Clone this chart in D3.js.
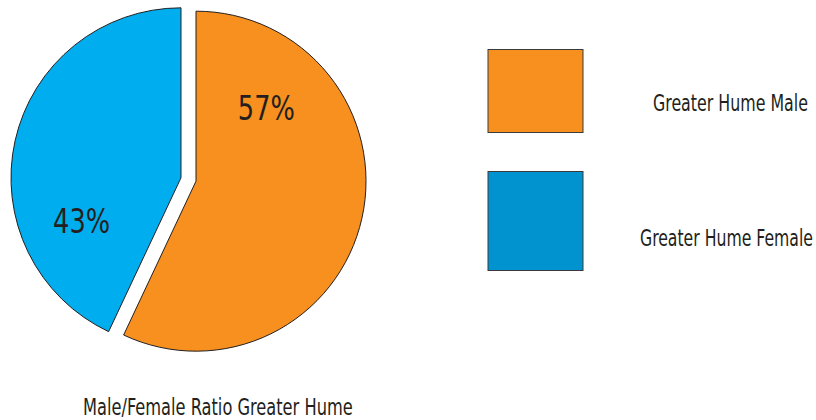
<!DOCTYPE html>
<html>
<head>
<meta charset="utf-8">
<script src="https://cdn.jsdelivr.net/npm/d3@7"></script>
<style>
  html, body { margin: 0; padding: 0; background: #ffffff; }
  svg { display: block; }
  text { font-family: "Liberation Sans Narrow", "Arial Narrow", "DejaVu Sans Condensed", "Liberation Sans", sans-serif; fill: #231f20; }
</style>
</head>
<body>
<svg id="chart" width="816" height="420"></svg>
<script>
// Share of population by sex
const categories = ["Greater Hume Male", "Greater Hume Female"];
const values = [57, 43];
const valueLabels = ["57%", "43%"];
const sliceColors = ["#f7901e", "#00adee"];
const legendColors = ["#f7901e", "#0093d0"];
const chartTitle = "Male/Female Ratio Greater Hume";

const svg = d3.select("#chart");
const ink = "#231f20";

// Squeeze a text horizontally so it spans the given width, anchored at (x, y)
function fitText(sel, x, y, width, anchor) {
  sel.each(function () {
    const t = d3.select(this).attr("x", 0).attr("y", 0).attr("text-anchor", "start");
    const len = this.getComputedTextLength();
    const k = width / len;
    const left = anchor === "middle" ? x - width / 2 : x;
    t.attr("transform", `translate(${left},${y}) scale(${k},1)`);
  });
}

// Pie geometry
const cx = 188.5, cy = 179.5, radius = 170, explode = 7.7;

const pie = d3.pie().sort(null).value(d => d.value);
const arcs = pie(categories.map((c, i) => ({ name: c, value: values[i], label: valueLabels[i], i })));
const arc = d3.arc().innerRadius(0).outerRadius(radius);

// Each slice is pulled out along its mid angle
function offset(d) {
  const mid = (d.startAngle + d.endAngle) / 2;
  return d3.pointRadial(mid, explode);
}

const slices = svg.append("g")
  .selectAll("g")
  .data(arcs)
  .join("g")
  .attr("transform", d => {
    const [dx, dy] = offset(d);
    return `translate(${cx + dx},${cy + dy})`;
  });

slices.append("path")
  .attr("d", arc)
  .attr("fill", d => sliceColors[d.data.i])
  .attr("stroke", ink)
  .attr("stroke-width", 1)
  .attr("stroke-linejoin", "miter");

// Percentage labels, placed inside each slice
const labelPlacement = [
  { angle: 43.6, r: 102 },
  { angle: 247, r: 108 }
];
slices.append("text")
  .attr("font-size", 34)
  .text(d => d.data.label)
  .each(function (d) {
    const p = labelPlacement[d.data.i];
    const [lx, ly] = d3.pointRadial(p.angle * Math.PI / 180, p.r);
    fitText(d3.select(this), lx, ly + 12.5, 57, "middle");
  });

// Legend
const legendBoxes = [
  { x: 488, y: 49.5, w: 95, h: 83 },
  { x: 488, y: 171.5, w: 95, h: 99 }
];
const legendText = [
  { x: 653, y: 111, len: 155 },
  { x: 640, y: 246, len: 173 }
];
const legend = svg.append("g")
  .selectAll("g")
  .data(categories)
  .join("g");

legend.append("rect")
  .attr("x", (d, i) => legendBoxes[i].x)
  .attr("y", (d, i) => legendBoxes[i].y)
  .attr("width", (d, i) => legendBoxes[i].w)
  .attr("height", (d, i) => legendBoxes[i].h)
  .attr("fill", (d, i) => legendColors[i])
  .attr("stroke", "#3a3a3a")
  .attr("stroke-width", 1);

legend.append("text")
  .attr("font-size", 23.5)
  .text(d => d)
  .each(function (d, i) {
    const p = legendText[i];
    fitText(d3.select(this), p.x, p.y, p.len, "start");
  });

// Caption
svg.append("text")
  .attr("font-size", 23.5)
  .text(chartTitle)
  .call(fitText, 83, 415, 270, "start");
</script>
</body>
</html>
